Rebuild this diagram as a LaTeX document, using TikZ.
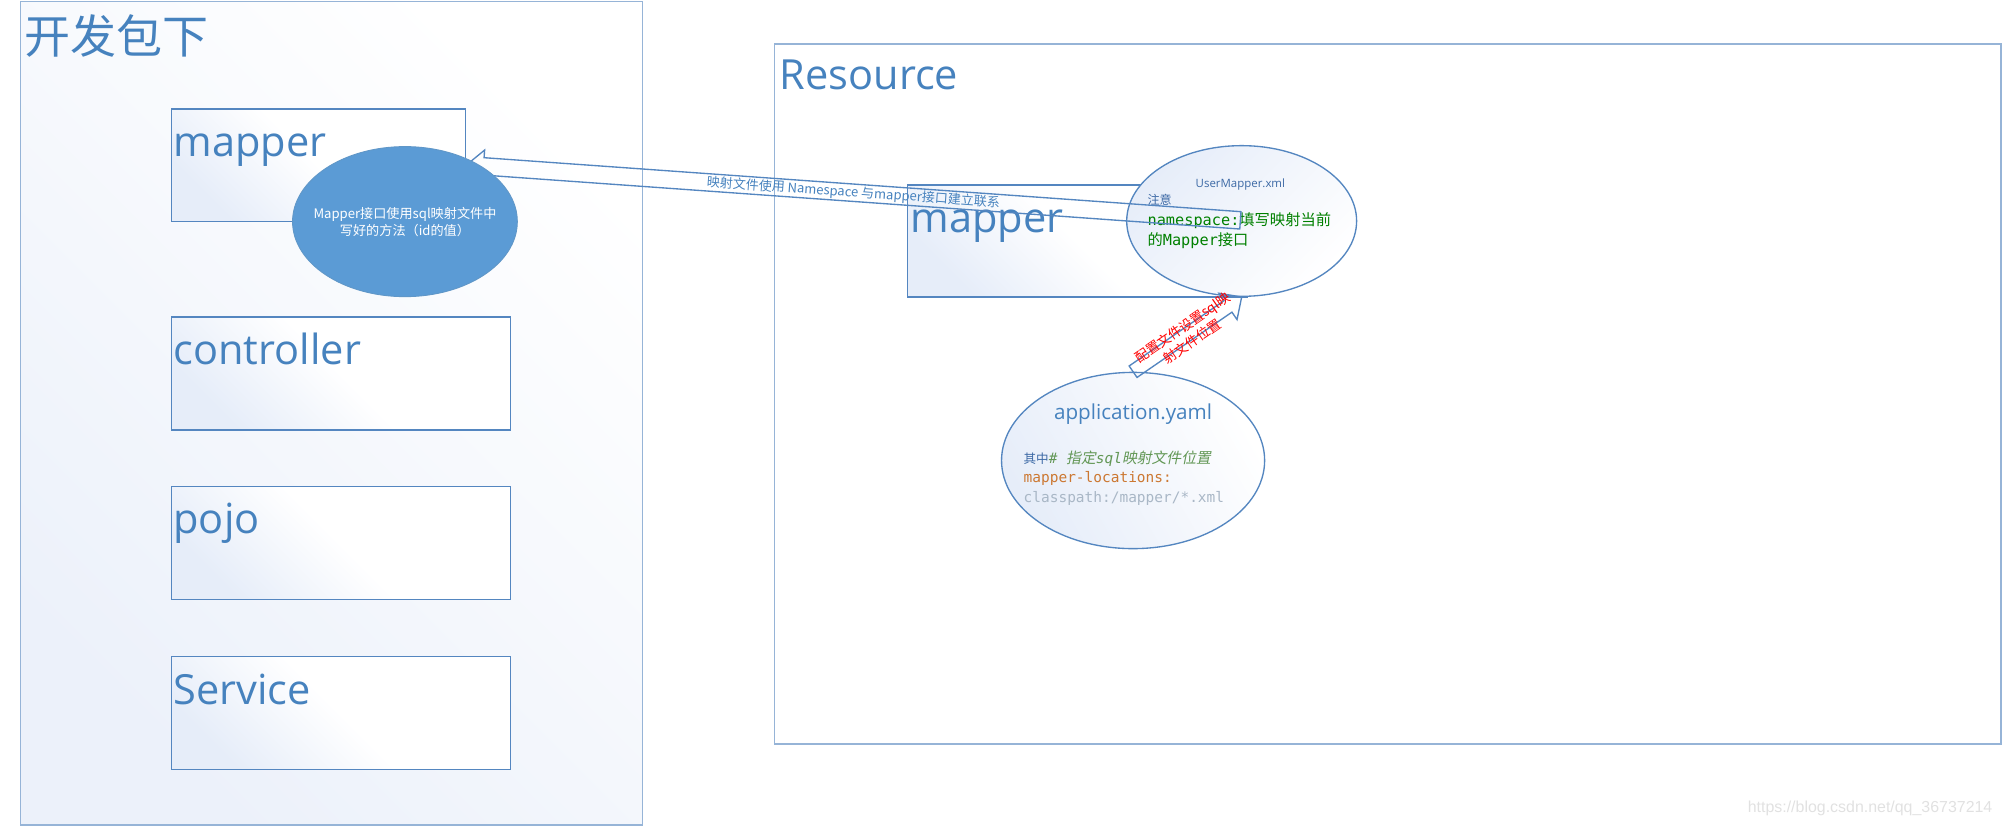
\documentclass[tikz,border=0pt]{standalone}
\usepackage{fontspec}
\setmainfont{Open Sans}
\setmonofont{DejaVu Sans Mono}
\newfontfamily\cjk{Noto Sans CJK SC}
\newfontfamily\cjksl[FakeSlant=0.2]{Noto Sans CJK SC}
\newfontfamily\wmfont{Liberation Sans}
\usetikzlibrary{calc,shapes.geometric}

\definecolor{txtblue}{RGB}{70,130,190}
\definecolor{lineblue}{RGB}{84,134,192}
\definecolor{paleline}{RGB}{150,180,215}
\definecolor{boxfill}{RGB}{230,237,249}
\definecolor{outerfill}{RGB}{236,241,250}
\definecolor{ellblue}{RGB}{91,155,213}
\definecolor{codegreen}{RGB}{98,151,85}
\definecolor{codeorange}{RGB}{204,120,50}
\definecolor{codegrey}{RGB}{169,183,198}
\definecolor{nsgreen}{RGB}{0,128,0}
\definecolor{wmgrey}{RGB}{225,225,225}
\definecolor{smallblue}{RGB}{60,105,165}

% #1 options, #2 name, #3 tip, #4 tail, #5 head length, #6 half body width, #7 half head width
\newcommand{\hollowarrow}[7][]{%
  \coordinate (#2-b) at ($(#3)!#5!(#4)$);
  \draw[#1] (#3) -- ($(#2-b)!#7!90:(#4)$) -- ($(#2-b)!#6!90:(#4)$)
    -- ($(#4)!#6!-90:(#3)$) -- ($(#4)!#6!90:(#3)$)
    -- ($(#2-b)!#6!-90:(#4)$) -- ($(#2-b)!#7!-90:(#4)$) -- cycle;}

\begin{document}
\begin{tikzpicture}[x=0.02cm, y=-0.02cm,
  outerbox/.style={draw=paleline, line width=0.6pt, inner sep=0, anchor=north west},
  pkgbox/.style={draw=lineblue, line width=0.6pt, inner sep=0, anchor=north west,
    top color=boxfill, bottom color=white, middle color=white, shading angle=135},
  bigtxt/.style={font=\fontsize{18.5}{22}\selectfont, text=txtblue, inner sep=0, anchor=base west},
  blockarrow/.style={draw=lineblue, line width=0.6pt},
  plain/.style={inner sep=0}
]
\useasboundingbox (0,0) rectangle (1568,647.4);

% outer containers
\node[outerbox, top color=outerfill, bottom color=white, shading angle=135,
  minimum width=9.74cm, minimum height=12.89cm] (devpkg) at (15.5,0.8) {};
\node[plain, anchor=west, text=txtblue, font=\cjk\fontsize{20.5}{24}\selectfont] (devtitle) at (19,28) {开发包下};

\node[outerbox, fill=white, minimum width=19.2cm, minimum height=10.96cm] (res) at (606,33.9) {};
\node[bigtxt] (restitle) at (610,70) {Resource};

% package boxes
\node[pkgbox, minimum width=4.61cm, minimum height=1.758cm] (mapperL) at (133.5,84.8) {};
\node[bigtxt] (tmapperL) at (135.5,122.6) {mapper};
\node[pkgbox, minimum width=5.312cm, minimum height=1.77cm] (ctrl) at (133.5,247.5) {};
\node[bigtxt] (tctrl) at (135.5,285) {controller};
\node[pkgbox, minimum width=5.312cm, minimum height=1.77cm] (pojo) at (133.5,380.5) {};
\node[bigtxt] (tpojo) at (135.5,418) {pojo};
\node[pkgbox, minimum width=5.312cm, minimum height=1.77cm] (serv) at (133.5,513.5) {};
\node[bigtxt] (tserv) at (135.5,551.5) {Service};

\node[pkgbox, minimum width=5.326cm, minimum height=1.754cm] (mapperR) at (709.7,144.3) {};
\node[bigtxt] (tmapperR) at (712.5,182) {mapper};

% UserMapper.xml ellipse
\node[ellipse, draw=lineblue, line width=0.6pt, inner sep=0,
  top color=white, bottom color=boxfill, shading angle=225,
  minimum width=3.6cm, minimum height=2.36cm] (ellR) at (972,173) {};
\node[plain, text=smallblue, font=\fontsize{5.1}{6}\selectfont] (uxml) at (971,144.6) {UserMapper.xml};
\node[plain, anchor=west, text=smallblue, font=\cjk\fontsize{5.4}{6.5}\selectfont] (note) at (898,156.6) {注意};
\node[plain, anchor=west, align=left, text=nsgreen, font=\fontsize{6.8}{8.76}\selectfont] (ns) at (898,180.7)
  {{\ttfamily namespace:}{\cjk 填写映射当前}\\{\cjk 的}{\ttfamily Mapper}{\cjk 接口}};

% arrow: mapping file -> mapper interface
\coordinate (a1tail) at (971,172.5);
\hollowarrow[blockarrow]{a1}{mapperL.east}{a1tail}{0.27cm}{0.136cm}{0.256cm}
\path (a1tail) -- node[sloped, plain, text=txtblue, font=\cjk\fontsize{5.8}{7}\selectfont] (a1lab)
  {映射文件使用 Namespace 与mapper接口建立联系} (mapperL.east);

% blue ellipse
\node[ellipse, fill=ellblue, draw=ellblue!85!gray, line width=0.4pt, inner sep=0,
  minimum width=3.52cm, minimum height=2.35cm] (ellB) at (317,173.5) {};
\node[plain, align=center, text=white, font=\cjk\fontsize{5.85}{7.45}\selectfont] (ellBtxt) at (317,174)
  {Mapper接口使用sql映射文件中\\写好的方法（id的值）};

% application.yaml ellipse
\node[ellipse, draw=lineblue, line width=0.6pt, inner sep=0,
  top color=boxfill, bottom color=white, shading angle=120,
  minimum width=4.12cm, minimum height=2.76cm] (ellY) at (887,360.5) {};
\node[plain, text=txtblue, font=\fontsize{9.2}{11}\selectfont] (yname) at (887,324) {application.yaml};
\node[plain, anchor=west, align=left, font=\fontsize{6.45}{8.68}\selectfont] (code) at (801,374.1)
  {{\cjk\fontsize{5.6}{8.68}\selectfont\color{smallblue}其中}{\color{codegreen}{\ttfamily\itshape\#\ }{\cjksl\fontsize{6.6}{8.68}\selectfont 指定}{\ttfamily\itshape sql}{\cjksl\fontsize{6.6}{8.68}\selectfont 映射文件位置}}\\
   {\color{codeorange}\ttfamily mapper-locations:}\\
   {\color{codegrey}\ttfamily classpath:/mapper/*.xml}};

% arrow: config -> mapping file
\hollowarrow[blockarrow]{a2}{ellR.south}{ellY.north}{0.26cm}{0.109cm}{0.25cm}
\path (ellY.north) -- node[sloped, plain, align=center, text=red, font=\cjk\fontsize{6}{7.6}\selectfont] (a2lab)
  {配置文件设置sql映\\射文件位置} (ellR.south);

% watermark
\node[plain, anchor=east, text=wmgrey, font=\wmfont\fontsize{7.1}{8.5}\selectfont] (wm) at (1560,633)
  {https://blog.csdn.net/qq\_36737214};
\end{tikzpicture}
\end{document}
